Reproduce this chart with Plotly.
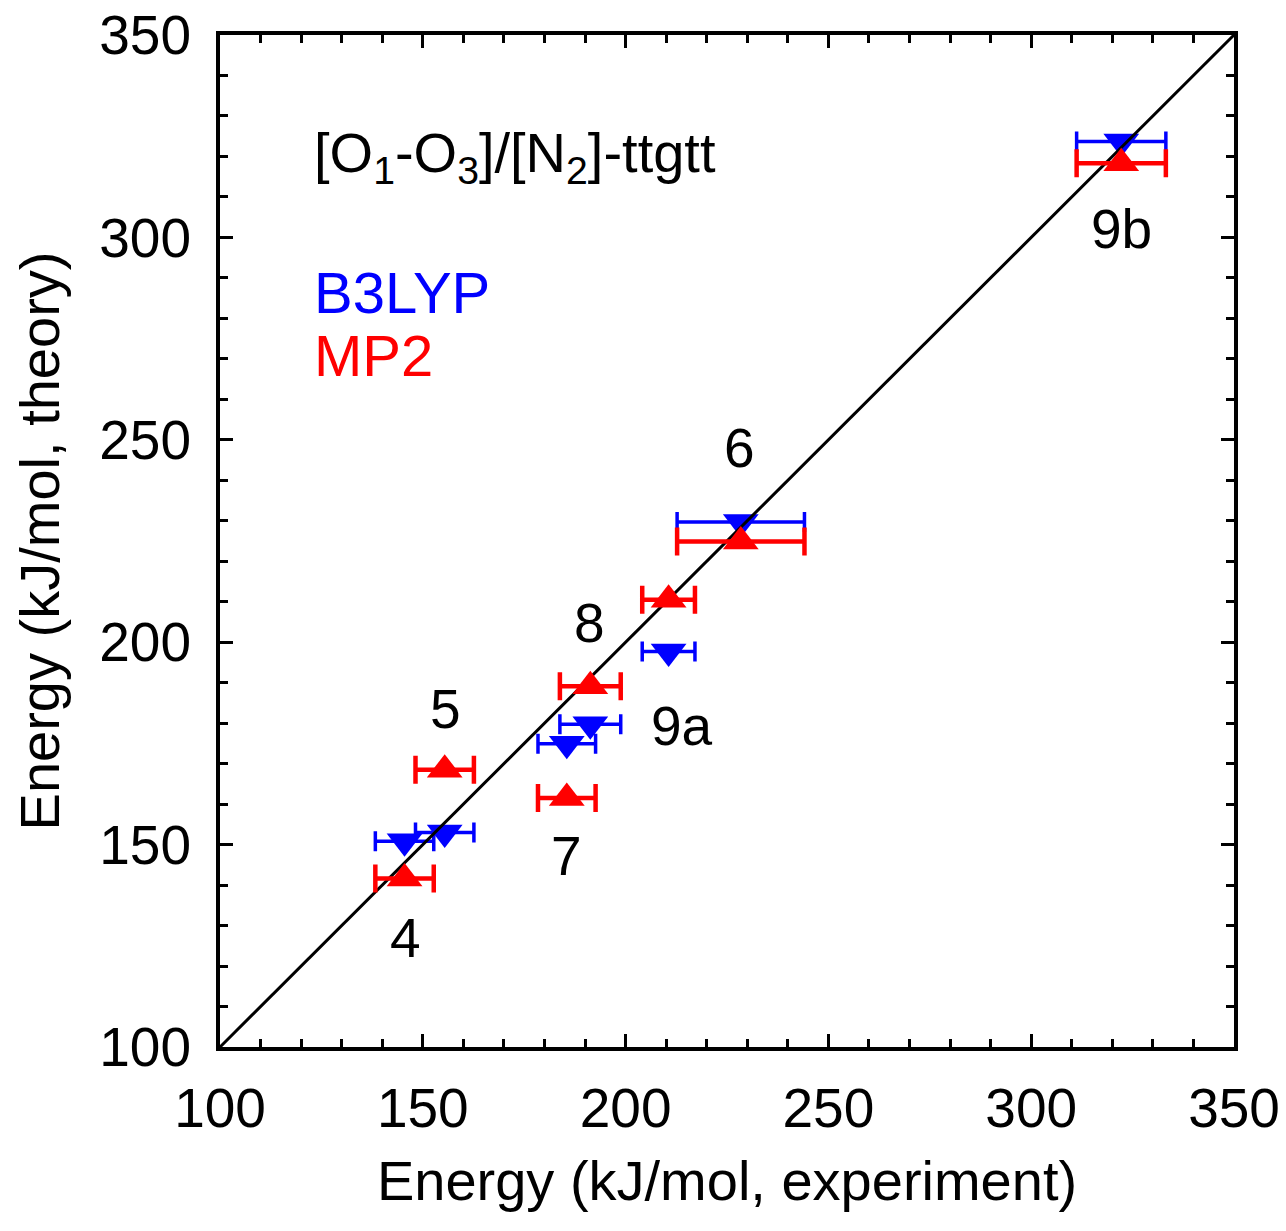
import plotly.graph_objects as go

labels = ["4", "5", "7", "8", "9a", "6", "9b"]
exp_energy = [145.5, 155.4, 185.5, 191.3, 210.6, 228.4, 322.2]
exp_error = [7.2, 7.2, 7.1, 7.5, 6.5, 15.7, 11.0]
b3lyp = [150.8, 153.0, 174.9, 179.7, 197.7, 229.7, 323.7]
mp2 = [141.6, 168.5, 161.5, 189.1, 210.5, 224.9, 318.3]

label_x = [145.7, 155.5, 185.5, 191.2, 213.9, 228.2, 322.3]
label_y = [126.9, 183.5, 147.2, 204.8, 179.2, 247.9, 302.0]

diag = [100, 350]

FONT = "Liberation Sans, Arial, Helvetica, sans-serif"

fig = go.Figure()

fig.add_trace(go.Scatter(
    x=exp_energy, y=b3lyp, mode="markers", name="B3LYP",
    marker=dict(symbol="triangle-down", size=31, color="#0000ff"),
    error_x=dict(type="data", array=exp_error, visible=True,
                 color="#0000ff", thickness=3.5, width=10),
))
fig.add_trace(go.Scatter(
    x=diag, y=diag, mode="lines", line=dict(color="black", width=3),
    showlegend=False, hoverinfo="skip",
))
fig.add_trace(go.Scatter(
    x=exp_energy, y=mp2, mode="markers", name="MP2",
    marker=dict(symbol="triangle-up", size=31, color="#ff0000"),
    error_x=dict(type="data", array=exp_error, visible=True,
                 color="#ff0000", thickness=4.5, width=14),
))

for lx, ly, t in zip(label_x, label_y, labels):
    fig.add_annotation(x=lx, y=ly, text=t, showarrow=False,
                       font=dict(size=55, color="black", family=FONT))

fig.add_annotation(x=122.6, y=320, text="[O<sub>1</sub>-O<sub>3</sub>]/[N<sub>2</sub>]-ttgtt",
                   showarrow=False, xanchor="left", yanchor="middle",
                   font=dict(size=56, color="black", family=FONT))
fig.add_annotation(x=122.6, y=286.3, text="B3LYP", showarrow=False,
                   xanchor="left", yanchor="middle",
                   font=dict(size=58, color="#0000ff", family=FONT))
fig.add_annotation(x=122.6, y=270.8, text="MP2", showarrow=False,
                   xanchor="left", yanchor="middle",
                   font=dict(size=58, color="#ff0000", family=FONT))

axis_common = dict(
    range=[100, 350], dtick=50, tick0=100,
    showgrid=False, zeroline=False,
    showline=True, linecolor="black", linewidth=4, mirror="allticks",
    ticks="inside", ticklen=13, tickwidth=3, tickcolor="black",
    minor=dict(dtick=10, ticks="inside", ticklen=8, tickwidth=3, tickcolor="black", showgrid=False),
    tickfont=dict(size=55, color="black", family=FONT),
    ticklabeloverflow="allow",
)

fig.update_xaxes(**axis_common,
                 title=dict(text="Energy (kJ/mol, experiment)",
                            font=dict(size=56, color="black", family=FONT), standoff=24),
                 ticklabelstandoff=10)
fig.update_yaxes(**axis_common,
                 title=dict(text="Energy (kJ/mol, theory)",
                            font=dict(size=56, color="black", family=FONT), standoff=24),
                 ticklabelstandoff=14)

fig.update_layout(
    width=1278, height=1215,
    margin=dict(l=212, r=52, t=27, b=176, autoexpand=False),
    paper_bgcolor="white", plot_bgcolor="white",
    showlegend=False,
)

fig.write_html("out.html")
